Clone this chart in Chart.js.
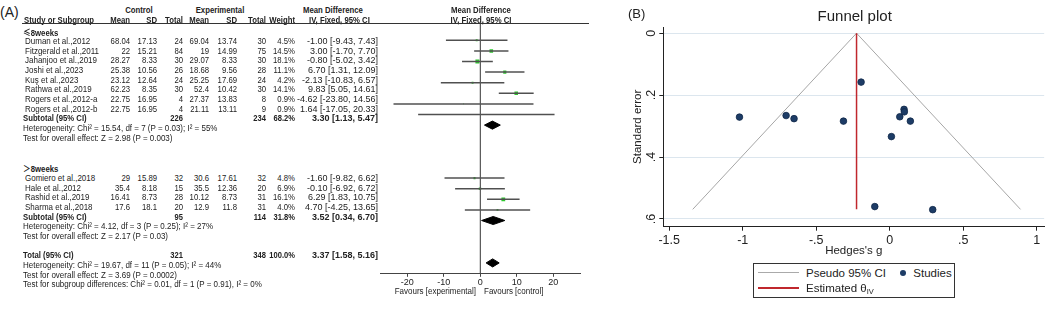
<!DOCTYPE html>
<html>
<head>
<meta charset="utf-8">
<script src="https://cdn.jsdelivr.net/npm/chart.js@4/dist/chart.umd.min.js"></script>
<style>
  html, body { margin: 0; padding: 0; background: #fff; }
  #page { position: relative; width: 1049px; height: 309px; overflow: hidden;
          font-family: "Liberation Sans", Arial, sans-serif; color: #222; }
  .t { position: absolute; white-space: nowrap; transform-origin: 0 0; }
  .b { font-weight: bold; }
  .cjk { font-family: "Noto Sans CJK SC", sans-serif; }
  canvas { position: absolute; top: 0; }
  sub { font-size: 65%; vertical-align: -2px; }
</style>
</head>
<body>
<div id="page">
  <canvas id="forest" width="230" height="309" style="left:370px"></canvas>
  <canvas id="funnel" width="449" height="309" style="left:600px"></canvas>
</div>
<script>
// ---- (A) forest plot, values ----
const groupNames = ['≤', '＞'];
const studyNames = ['Duman et al.,2012', 'Fitzgerald et al.,2011', 'Jahanjoo et al.,2019', 'Joshi et al.,2023',
  'Kuş et al.,2023', 'Rathwa et al.,2019', 'Rogers et al.,2012-a', 'Rogers et al.,2012-b',
  'Gomiero et al.,2018', 'Hale et al.,2012', 'Rashid et al.,2019', 'Sharma et al.,2018'];
const studyGroup = [0, 0, 0, 0, 0, 0, 0, 0, 1, 1, 1, 1];
const controlMean = [68.04, 22, 28.27, 25.38, 23.12, 62.23, 22.75, 22.75, 29, 35.4, 16.41, 17.6];
const controlSD = [17.13, 15.21, 8.33, 10.56, 12.64, 8.35, 16.95, 16.95, 15.89, 8.18, 8.73, 18.1];
const controlTotal = [24, 84, 30, 26, 24, 30, 4, 4, 32, 15, 28, 20];
const expMean = [69.04, 19, 29.07, 18.68, 25.25, 52.4, 27.37, 21.11, 30.6, 35.5, 10.12, 12.9];
const expSD = [13.74, 14.99, 8.33, 9.56, 17.69, 10.42, 13.83, 13.11, 17.61, 12.36, 8.73, 11.8];
const expTotal = [30, 75, 30, 28, 24, 30, 8, 9, 32, 20, 31, 31];
const weight = [4.5, 14.5, 18.1, 11.1, 4.2, 14.1, 0.9, 0.9, 4.8, 6.9, 16.1, 4.0];
const meanDiff = [-1.00, 3.00, -0.80, 6.70, -2.13, 9.83, -4.62, 1.64, -1.60, -0.10, 6.29, 4.70];
const ciLow = [-9.43, -1.70, -5.02, 1.31, -10.83, 5.05, -23.80, -17.05, -9.82, -6.92, 1.83, -4.25];
const ciHigh = [7.43, 7.70, 3.42, 12.09, 6.57, 14.61, 14.56, 20.33, 6.62, 6.72, 10.75, 13.65];

const subControlTotal = [226, 95];
const subExpTotal = [234, 114];
const subWeight = [68.2, 31.8];
const subMeanDiff = [3.30, 3.52];
const subCiLow = [1.13, 0.34];
const subCiHigh = [5.47, 6.70];
const subHeterogeneity = ['Heterogeneity: Chi² = 15.54, df = 7 (P = 0.03); I² = 55%',
  'Heterogeneity: Chi² = 4.12, df = 3 (P = 0.25); I² = 27%'];
const subOverall = ['Test for overall effect: Z = 2.98 (P = 0.003)', 'Test for overall effect: Z = 2.17 (P = 0.03)'];

const totalControl = 321, totalExp = 348, totalWeight = 100.0;
const totalMeanDiff = 3.37, totalCiLow = 1.58, totalCiHigh = 5.16;
const totalNotes = ['Heterogeneity: Chi² = 19.67, df = 11 (P = 0.05); I² = 44%',
  'Test for overall effect: Z = 3.69 (P = 0.0002)',
  'Test for subgroup differences: Chi² = 0.01, df = 1 (P = 0.91), I² = 0%'];
const forestTicks = [-20, -10, 0, 10, 20];

// ---- (B) funnel plot ----
const hedgesG = [-0.195, -1.022, -0.705, -0.651, -0.315, 0.068, 0.097, 0.099, 0.140, 0.011, -0.102, 0.292];
const stdErr = [0.158, 0.271, 0.266, 0.276, 0.284, 0.270, 0.246, 0.254, 0.284, 0.334, 0.560, 0.570];
const thetaG = [-0.226, -0.226];
const thetaSE = [0, 0.569];
const pseudoG = [-1.34, -0.226, 0.889];
const pseudoSE = [0.569, 0, 0.569];
const funnelTicksX = [-1.5, -1, -0.5, 0, 0.5, 1];
const funnelTicksY = [0, 0.2, 0.4, 0.6];

const FONT = '"Liberation Sans", Arial, sans-serif';
const page = document.getElementById('page');

// text styles: the original table font is a bit condensed
const LET = { size: 9.2, sx: 0.87 };
const HEAD = { bold: true, size: 9, sx: 0.86 };
const NUM = { size: 9, sx: 0.86 };
const NUMB = { bold: true, size: 9, sx: 0.84 };
const CI = { size: 9 };
const CIB = { bold: true, size: 9 };

function put(html, x, y, opts = {}) {
  const el = document.createElement('div');
  el.className = 't' + (opts.bold ? ' b' : '');
  el.innerHTML = html;
  const size = opts.size || 9;
  const lh = Math.round(size * 1.2);
  el.style.fontSize = size + 'px';
  el.style.lineHeight = lh + 'px';
  el.style.left = x + 'px';
  el.style.top = (y - lh / 2) + 'px';
  const shift = opts.align === 'right' ? '-100%' : opts.align === 'center' ? '-50%' : '0';
  el.style.transform = 'scaleX(' + (opts.sx || 1) + ') translateX(' + shift + ')';
  page.appendChild(el);
  return el;
}
const st = (base, more) => Object.assign({}, base, more);

function box(x, y, w, h, css) {
  const el = document.createElement('div');
  el.style.cssText = 'position:absolute;left:' + x + 'px;top:' + y + 'px;width:' + w + 'px;height:' + h + 'px;' + css;
  page.appendChild(el);
  return el;
}

const ci = (m, lo, hi) => m.toFixed(2) + ' [' + lo.toFixed(2) + ', ' + hi.toFixed(2) + ']';

// build the row layout
const rows = [];
let r = 0;
groupNames.forEach((g, gi) => {
  rows.push({ r: r++, kind: 'heading', gi });
  studyNames.forEach((n, i) => { if (studyGroup[i] === gi) rows.push({ r: r++, kind: 'study', i }); });
  rows.push({ r: r++, kind: 'subtotal', gi });
  rows.push({ r: r++, kind: 'note', text: subHeterogeneity[gi] });
  rows.push({ r: r++, kind: 'note', text: subOverall[gi] });
  r++;
});
rows.push({ r: r++, kind: 'total' });
totalNotes.forEach(t => rows.push({ r: r++, kind: 'note', text: t }));

// text rows are a little tighter than the plot rows in the original
const textY = row => 32 + 9.65 * row + (row >= 13 ? 11.5 : 0);
const col = { cMean: 130, cSD: 157, cN: 183, eMean: 208.5, eSD: 237, eN: 266, w: 294.5, ci: 378 };

// header
put('(A)', 0, 12, { size: 14 });
put('Control', 139, 10, st(HEAD, { align: 'center' }));
put('Experimental', 220, 10, st(HEAD, { align: 'center' }));
put('Mean Difference', 303, 10, HEAD);
put('Mean Difference', 480.5, 10, st(HEAD, { align: 'center' }));
put('Study or Subgroup', 24, 20.5, HEAD);
[['Mean', col.cMean], ['SD', col.cSD], ['Total', col.cN], ['Mean', col.eMean], ['SD', col.eSD],
 ['Total', col.eN], ['Weight', col.w]].forEach(([t, x]) => put(t, x, 20.5, st(HEAD, { align: 'right' })));
put('IV, Fixed, 95% CI', 309, 20.5, HEAD);
put('IV, Fixed, 95% CI', 480.5, 20.5, st(HEAD, { align: 'center' }));
box(22, 23, 567, 0, 'border-top:1px solid #333;');

rows.forEach(row => {
  const y = textY(row.r);
  if (row.kind === 'heading') {
    put('<span class="cjk">' + groupNames[row.gi] + '</span>8weeks', 23, y, HEAD);
  } else if (row.kind === 'study') {
    const i = row.i;
    const right = st(NUM, { align: 'right' });
    put(studyNames[i], 25, y, LET);
    put(String(controlMean[i]), col.cMean, y, right);
    put(String(controlSD[i]), col.cSD, y, right);
    put(String(controlTotal[i]), col.cN, y, right);
    put(String(expMean[i]), col.eMean, y, right);
    put(String(expSD[i]), col.eSD, y, right);
    put(String(expTotal[i]), col.eN, y, right);
    put(weight[i].toFixed(1) + '%', col.w, y, right);
    put(ci(meanDiff[i], ciLow[i], ciHigh[i]), col.ci, y, st(CI, { align: 'right' }));
  } else if (row.kind === 'subtotal' || row.kind === 'total') {
    const sub = row.kind === 'subtotal';
    const g = row.gi;
    const right = st(NUMB, { align: 'right' });
    put(sub ? 'Subtotal (95% CI)' : 'Total (95% CI)', 23, y, HEAD);
    put(String(sub ? subControlTotal[g] : totalControl), col.cN, y, right);
    put(String(sub ? subExpTotal[g] : totalExp), col.eN, y, right);
    put((sub ? subWeight[g] : totalWeight).toFixed(1) + '%', col.w, y, right);
    put(sub ? ci(subMeanDiff[g], subCiLow[g], subCiHigh[g]) : ci(totalMeanDiff, totalCiLow, totalCiHigh),
      col.ci, y, st(CIB, { align: 'right' }));
  } else {
    put(row.text, 22.5, y, LET);
  }
});
put('Favours [experimental]', 476, 291.5, st(LET, { align: 'right' }));
put('Favours [control]', 484, 291.5, LET);

// forest chart
const rowMin = -0.54, rowMax = 22.98;
const diamondHalf = 0.38;
const forestSets = [];
forestSets.push({ data: [{ x: 0, y: rowMin }, { x: 0, y: rowMax }], showLine: true,
  borderColor: '#555', borderWidth: 1.2, pointRadius: 0 });
const studyRows = rows.filter(o => o.kind === 'study');
studyRows.forEach(o => {
  forestSets.push({ data: [{ x: ciLow[o.i], y: o.r }, { x: ciHigh[o.i], y: o.r }], showLine: true,
    borderColor: '#505050', borderWidth: 1.5, pointRadius: 0 });
});
forestSets.push({ data: studyRows.map(o => ({ x: meanDiff[o.i], y: o.r })),
  pointStyle: 'rect', backgroundColor: '#2ec82e', borderWidth: 0,
  pointRadius: ctx => Math.sqrt(weight[studyRows[ctx.dataIndex].i]) / 1.5 });
const diamond = (m, lo, hi, row) => ({
  data: [{ x: lo, y: row }, { x: m, y: row - diamondHalf }, { x: hi, y: row }, { x: m, y: row + diamondHalf }, { x: lo, y: row }],
  showLine: true, fill: 'shape', backgroundColor: '#000', borderColor: '#000', borderWidth: 1, pointRadius: 0 });
rows.filter(o => o.kind === 'subtotal').forEach(o =>
  forestSets.push(diamond(subMeanDiff[o.gi], subCiLow[o.gi], subCiHigh[o.gi], o.r)));
rows.filter(o => o.kind === 'total').forEach(o =>
  forestSets.push(diamond(totalMeanDiff, totalCiLow, totalCiHigh, o.r)));

new Chart(document.getElementById('forest'), {
  type: 'scatter',
  data: { datasets: forestSets },
  options: {
    responsive: false,
    animation: false,
    layout: { padding: { left: 10, right: 19.3, top: 24, bottom: 0 } },
    plugins: { legend: { display: false }, tooltip: { enabled: false } },
    scales: {
      x: {
        type: 'linear', min: -27.5, max: 27.5,
        afterBuildTicks: s => { s.ticks = forestTicks.map(v => ({ value: v })); },
        afterFit: s => { s.height = 35.7; },
        grid: { drawOnChartArea: false, tickLength: 3.5, color: '#444' },
        border: { color: '#444', width: 1 },
        ticks: { padding: 0, color: '#222', font: { family: FONT, size: 9 }, callback: v => String(v) }
      },
      y: { type: 'linear', display: false, reverse: true, min: rowMin, max: rowMax }
    }
  }
});

// ---- (B) funnel plot ----
put('(B)', 628, 14, { size: 13 });
put('Funnel plot', 854.7, 16, { size: 15, align: 'center' });

const gLabel = v => (v === 0 ? '0' : String(v).replace('0.', '.'));

new Chart(document.getElementById('funnel'), {
  type: 'scatter',
  data: {
    datasets: [
      { label: 'Studies', data: hedgesG.map((g, i) => ({ x: g, y: stdErr[i] })), order: 0,
        pointRadius: 3.3, backgroundColor: '#1d3c66', borderColor: '#0f2747', borderWidth: 0.8 },
      { label: 'Estimated θIV', data: thetaG.map((g, i) => ({ x: g, y: thetaSE[i] })), order: 1,
        showLine: true, borderColor: '#c0272d', borderWidth: 1.5, pointRadius: 0 },
      { label: 'Pseudo 95% CI', data: pseudoG.map((g, i) => ({ x: g, y: pseudoSE[i] })), order: 2,
        showLine: true, borderColor: '#a6a6a6', borderWidth: 1, pointRadius: 0 }
    ]
  },
  options: {
    responsive: false,
    animation: false,
    layout: { padding: { left: 31.4, right: 3, top: 27, bottom: 51.4 } },
    plugins: { legend: { display: false }, tooltip: { enabled: false } },
    scales: {
      x: {
        type: 'linear', min: -1.54, max: 1.05,
        afterBuildTicks: s => { s.ticks = funnelTicksX.map(v => ({ value: v })); },
        afterFit: s => { s.height = 30.9; },
        grid: { drawOnChartArea: false, tickLength: 4, tickColor: '#222' },
        border: { color: '#222', width: 1 },
        ticks: { padding: 2.5, color: '#222', font: { family: FONT, size: 12.5 }, callback: gLabel },
        title: { display: true, text: "Hedges's g", padding: 0, color: '#222', font: { family: FONT, size: 11.5 } }
      },
      y: {
        type: 'linear', reverse: true, min: -0.02, max: 0.625,
        afterBuildTicks: s => { s.ticks = funnelTicksY.map(v => ({ value: v })); },
        afterFit: s => { s.width = 31.9; },
        grid: { color: '#dce6ee', tickLength: 4, tickColor: '#222' },
        border: { color: '#222', width: 1 },
        ticks: { minRotation: 90, maxRotation: 90, crossAlign: 'center', padding: 2.6, color: '#222',
          font: { family: FONT, size: 12.5 }, callback: gLabel },
        title: { display: true, text: 'Standard error', padding: 0, color: '#222', font: { family: FONT, size: 11.5 } }
      }
    }
  }
});

// legend box
box(753, 262.5, 202, 35, 'box-sizing:border-box;border:1px solid #333;background:#fff;');
box(758, 272.2, 41, 0, 'border-top:1px solid #aaa;');
box(758, 286.7, 41, 0, 'border-top:2px solid #c0272d;');
box(900.3, 269.7, 6, 6, 'border-radius:50%;background:#1d3c66;');
put('Pseudo 95% CI', 806, 272.7, { size: 11.5 });
put('Studies', 913.3, 272.7, { size: 11.5 });
put('Estimated θ<sub>IV</sub>', 806, 287.7, { size: 11.5 });
</script>
</body>
</html>
